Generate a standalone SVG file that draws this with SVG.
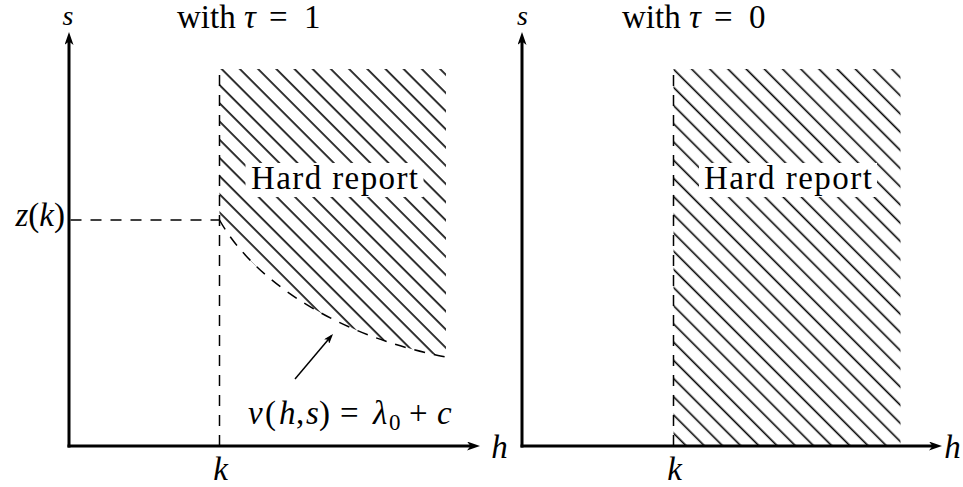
<svg xmlns="http://www.w3.org/2000/svg" width="963" height="487" viewBox="0 0 963 487">
<style>
.t{font-family:"Liberation Serif","Times New Roman",serif;font-size:33px;fill:#000}
.i{font-style:italic}
.lab{font-size:28px}
.axis{stroke:#000;stroke-width:3;fill:none}
.dash{stroke:#000;stroke-width:1.5;stroke-dasharray:11 9;fill:none}
.thin{stroke:#000;stroke-width:1.5;fill:none}
</style>
<defs>
<marker id="ax" viewBox="0 0 13 9" markerWidth="13" markerHeight="9" refX="7" refY="4.5" orient="auto" markerUnits="userSpaceOnUse">
<path d="M0,0 L13,4.5 L0,9 L3.5,4.5 Z" fill="#000"/>
</marker>
<marker id="sm" viewBox="0 0 10 7" markerWidth="10" markerHeight="7" refX="8" refY="3.5" orient="auto" markerUnits="userSpaceOnUse">
<path d="M0,0 L10,3.5 L0,7 L2.5,3.5 Z" fill="#000"/>
</marker>
<pattern id="hatchL" patternUnits="userSpaceOnUse" width="12.87" height="200" patternTransform="rotate(-45)">
<rect x="4.22" y="0" width="1.6" height="200" fill="#000"/>
</pattern>
<pattern id="hatchR" patternUnits="userSpaceOnUse" width="12.87" height="200" patternTransform="rotate(-45)">
<rect x="1.82" y="0" width="1.6" height="200" fill="#000"/>
</pattern>
</defs>
<rect width="963" height="487" fill="#fff"/>

<!-- Left panel -->
<g id="left-region">
<path d="M219.5,69 H446 V357 C330,335 250,275 219.5,220 Z" fill="url(#hatchL)"/>
</g>
<g id="left-bounds">
<path class="dash" d="M219.5,446 V69"/>
<path class="dash" d="M70.5,220 H219.5"/>
<path class="dash" d="M219.5,220 C250,275 330,335 446,357"/>
</g>
<g id="left-axes">
<line class="axis" x1="69" y1="447.5" x2="69" y2="38" marker-end="url(#ax)"/>
<line class="axis" x1="67.5" y1="446" x2="474" y2="446" marker-end="url(#ax)"/>
</g>
<g id="left-hard-report">
<rect x="245.5" y="163" width="178" height="34" fill="#fff"/>
<text class="t" x="334.5" y="189" text-anchor="middle" textLength="167" lengthAdjust="spacing">Hard report</text>
</g>
<g id="left-title"><text class="t" y="28"><tspan x="177">with</tspan><tspan class="i" x="244">τ</tspan><tspan x="269">=</tspan><tspan x="304">1</tspan></text></g>
<g id="left-s"><text class="t i lab" x="68" y="25" text-anchor="middle">s</text></g>
<g id="left-h"><text class="t i" x="499.5" y="458" text-anchor="middle">h</text></g>
<g id="left-k"><text class="t i" x="220.5" y="480" text-anchor="middle">k</text></g>
<g id="left-zk"><text class="t" x="65" y="226" text-anchor="end"><tspan class="i">z</tspan>(<tspan class="i">k</tspan>)</text></g>
<g id="left-curve-label"><text class="t" y="424"><tspan class="i" x="248">v</tspan><tspan x="265">(</tspan><tspan class="i" x="279">h</tspan><tspan x="296">,</tspan><tspan class="i" x="306">s</tspan><tspan x="319">)</tspan><tspan x="340">=</tspan><tspan class="i" x="373">λ</tspan><tspan x="389" dy="6" style="font-size:23px">0</tspan><tspan x="409" dy="-6">+</tspan><tspan class="i" x="437">c</tspan></text></g>

<!-- Right panel -->
<g id="right-region">
<rect x="673.5" y="69" width="227" height="377" fill="url(#hatchR)"/>
</g>
<g id="right-bounds">
<path class="dash" d="M673.5,446 V69"/>
</g>
<g id="right-axes">
<line class="axis" x1="522" y1="447.5" x2="522" y2="38" marker-end="url(#ax)"/>
<line class="axis" x1="520.5" y1="446" x2="936" y2="446" marker-end="url(#ax)"/>
</g>
<g id="right-hard-report">
<rect x="699" y="163" width="178" height="34" fill="#fff"/>
<text class="t" x="788" y="189" text-anchor="middle" textLength="168" lengthAdjust="spacing">Hard report</text>
</g>
<g id="right-title"><text class="t" y="28"><tspan x="622">with</tspan><tspan class="i" x="689">τ</tspan><tspan x="714">=</tspan><tspan x="749">0</tspan></text></g>
<g id="right-s"><text class="t i lab" x="522.5" y="25" text-anchor="middle">s</text></g>
<g id="right-h"><text class="t i" x="952.5" y="458" text-anchor="middle">h</text></g>
<g id="right-k"><text class="t i" x="674.5" y="480" text-anchor="middle">k</text></g>

<g id="connectors">
<line class="thin" x1="295" y1="379" x2="331.7" y2="335.5" marker-end="url(#sm)"/>
</g>
</svg>
